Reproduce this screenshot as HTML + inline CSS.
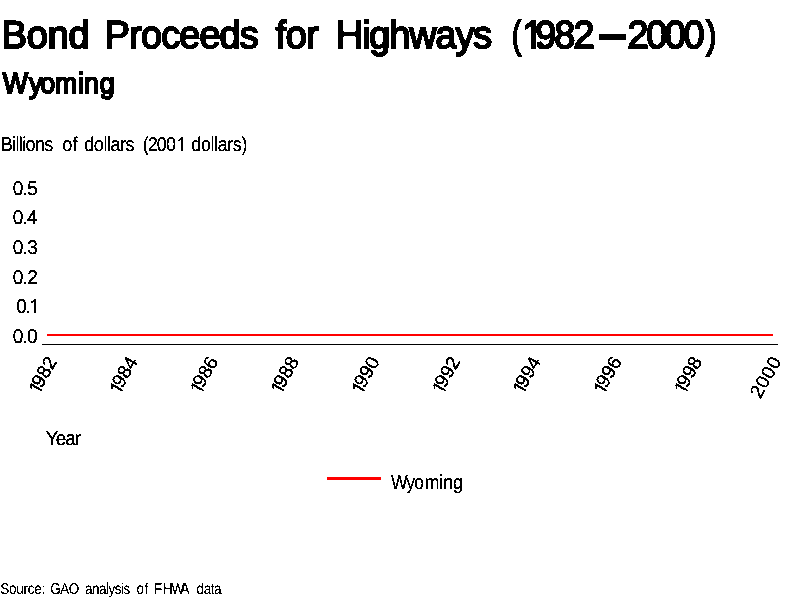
<!DOCTYPE html>
<html lang="en">
<head>
<meta charset="utf-8">
<title>Bond Proceeds for Highways (1982-2000) - Wyoming</title>
<style>
html,body{margin:0;padding:0;background:#fff;}
body{width:800px;height:600px;overflow:hidden;}
svg{display:block;}
text{font-family:"Liberation Sans",sans-serif;fill:#000;stroke:#000;stroke-linejoin:miter;text-rendering:geometricPrecision;white-space:pre;}
</style>
</head>
<body>
<svg width="800" height="600" viewBox="0 0 800 600">
<defs>
<filter id="th" x="0" y="0" width="800" height="600" filterUnits="userSpaceOnUse"><feComponentTransfer><feFuncA type="discrete" tableValues="0 1"/></feComponentTransfer></filter>
<clipPath id="k1"><path clip-rule="evenodd" d="M-100,-100H1000V100H-100ZM539.79,-4.16H547.48V1.55H539.79ZM552.33,-4.16L552.88,-4.16L553.00,-3.45L553.26,-2.74L553.57,-2.02L553.99,-1.31L554.52,-0.59L555.28,0.12L556.35,0.84L558.75,1.55L552.33,1.55Z"/></clipPath>
<clipPath id="k2"><path clip-rule="evenodd" d="M-100,-100H1000V100H-100ZM197.21,-1.92H201.57V0.72H197.21ZM203.08,-1.92H207.28V0.72H203.08Z"/></clipPath>
<clipPath id="k3"><path clip-rule="evenodd" d="M-100,-100H1000V100H-100ZM31.88,-1.92H36.23V0.72H31.88ZM37.75,-1.92H41.95V0.72H37.75Z"/></clipPath>
<clipPath id="k4"><path clip-rule="evenodd" d="M-100,-100H1000V100H-100ZM-38.10,-0.67H-33.92V1.95H-38.10ZM-32.44,-0.67L-30.42,-0.67L-30.16,-0.34L-29.79,-0.01L-29.25,0.31L-28.41,0.64L-28.41,0.97L-28.41,1.30L-28.41,1.62L-28.41,1.95L-32.44,1.95Z"/></clipPath>
</defs>
<rect width="800" height="600" fill="#fff"/>
<g filter="url(#th)">
<text transform="translate(0,48) scale(0.9700,1)" font-size="39" stroke-width="1.9" clip-path="url(#k1)"><tspan x="1.87" letter-spacing="-0.22">Bond</tspan> <tspan x="108.06" letter-spacing="-0.87">Proceeds</tspan> <tspan x="284.21" letter-spacing="-0.55">for</tspan> <tspan x="346.20" letter-spacing="-1.11">Highways</tspan> <tspan x="527.53" textLength="9.80" lengthAdjust="spacingAndGlyphs">(</tspan><tspan x="538.37 551.78" letter-spacing="-1.96">1982</tspan><tspan x="618.70" y="-1.00" font-size="38" stroke-width="3.46" textLength="25.49" lengthAdjust="spacingAndGlyphs">—</tspan><tspan x="646.94" y="0" letter-spacing="-2.47">2000</tspan><tspan x="727.75" textLength="10.81" lengthAdjust="spacingAndGlyphs">)</tspan></text>
<text transform="translate(0,93) scale(0.9200,1)" font-size="29" stroke-width="1.9" x="2.89 31.53 43.75 59.79 84.88 91.42 108.32">Wyoming</text>
<text transform="translate(0,151) scale(0.9000,1)" font-size="20" stroke-width="0.25" clip-path="url(#k2)"><tspan x="0.72" letter-spacing="-0.69">Billions</tspan> <tspan x="69.25" letter-spacing="0.11">of</tspan> <tspan x="93.69" letter-spacing="-0.51">dollars</tspan> <tspan x="158.56 164.20 174.30 184.41 196.41">(2001</tspan> <tspan x="212.58" letter-spacing="-0.46">dollars)</tspan></text>
<text transform="translate(0,195) scale(0.9500,1)" font-size="20" stroke-width="0.25" x="13.46" letter-spacing="-0.76">0.5</text>
<text transform="translate(0,224) scale(0.9500,1)" font-size="20" stroke-width="0.25" x="13.46" letter-spacing="-0.88">0.4</text>
<text transform="translate(0,254) scale(0.9500,1)" font-size="20" stroke-width="0.25" x="13.46" letter-spacing="-0.76">0.3</text>
<text transform="translate(0,284) scale(0.9500,1)" font-size="20" stroke-width="0.25" x="13.46" letter-spacing="-0.76">0.2</text>
<text transform="translate(0,313) scale(0.9500,1)" font-size="20" stroke-width="0.25" x="16.99 26.65 31.08" clip-path="url(#k3)">0.1</text>
<text transform="translate(0,343) scale(0.9500,1)" font-size="20" stroke-width="0.25" x="13.46" letter-spacing="-0.88">0.0</text>
<text transform="translate(57.50,361.3) rotate(-60)" font-size="19" stroke-width="0.3" x="-38.80 -31.70" y="1.2 0" clip-path="url(#k4)">1982</text>
<text transform="translate(138.17,361.3) rotate(-60)" font-size="19" stroke-width="0.3" x="-38.80 -31.70" y="1.2 0" clip-path="url(#k4)">1984</text>
<text transform="translate(218.83,361.3) rotate(-60)" font-size="19" stroke-width="0.3" x="-38.80 -31.70" y="1.2 0" clip-path="url(#k4)">1986</text>
<text transform="translate(299.50,361.3) rotate(-60)" font-size="19" stroke-width="0.3" x="-38.80 -31.70" y="1.2 0" clip-path="url(#k4)">1988</text>
<text transform="translate(380.17,361.3) rotate(-60)" font-size="19" stroke-width="0.3" x="-38.80 -31.70" y="1.2 0" clip-path="url(#k4)">1990</text>
<text transform="translate(460.83,361.3) rotate(-60)" font-size="19" stroke-width="0.3" x="-38.80 -31.70" y="1.2 0" clip-path="url(#k4)">1992</text>
<text transform="translate(541.50,361.3) rotate(-60)" font-size="19" stroke-width="0.3" x="-38.80 -31.70" y="1.2 0" clip-path="url(#k4)">1994</text>
<text transform="translate(622.17,361.3) rotate(-60)" font-size="19" stroke-width="0.3" x="-38.80 -31.70" y="1.2 0" clip-path="url(#k4)">1996</text>
<text transform="translate(702.83,361.3) rotate(-60)" font-size="19" stroke-width="0.3" x="-38.80 -31.70" y="1.2 0" clip-path="url(#k4)">1998</text>
<text transform="translate(783.50,361.3) rotate(-60)" font-size="19" stroke-width="0.3" x="-0.3" y="-1.1" text-anchor="end" letter-spacing="0.5">2000</text>
<text transform="translate(0,445) scale(0.9500,1)" font-size="20" stroke-width="0.25" x="48.17" letter-spacing="-1.05">Year</text>
<text transform="translate(0,489) scale(0.8800,1)" font-size="20" stroke-width="0.25" x="444.24 461.72 470.88 482.77 498.79 503.57 514.85">Wyoming</text>
<text transform="translate(0,594) scale(0.8600,1)" font-size="15.7" stroke-width="0.15"><tspan x="0.41" letter-spacing="-0.33">Source:</tspan> <tspan x="58.55" letter-spacing="-0.62">GAO</tspan> <tspan x="98.92" letter-spacing="-0.57">analysis</tspan> <tspan x="158.80" letter-spacing="0.51">of</tspan> <tspan x="179.02 189.48 199.42 209.93">FHWA</tspan> <tspan x="228.57" letter-spacing="-0.47">data</tspan></text>
</g>
<rect x="47" y="334" width="726" height="2" fill="#f00"/>
<rect x="42" y="344" width="736" height="1" fill="#000"/>
<rect x="327" y="477" width="54" height="3" fill="#f00"/>
</svg>
</body>
</html>
